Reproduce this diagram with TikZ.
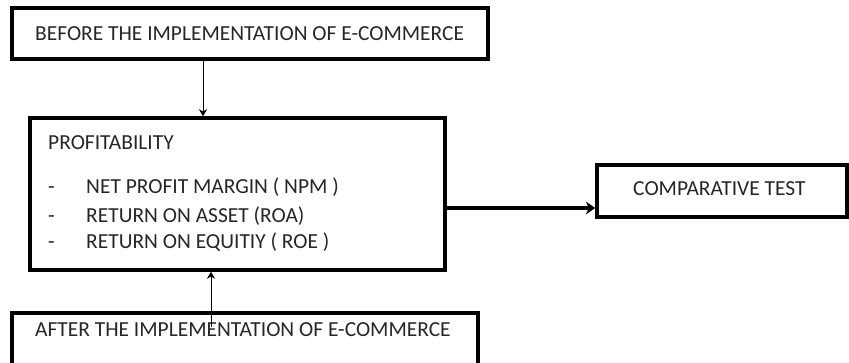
\documentclass[tikz,border=0pt]{standalone}
\usepackage{fontspec}
\setmainfont{Carlito}
\usetikzlibrary{arrows.meta,positioning}
\tikzset{
  box/.style={draw,line width=3pt,rectangle,inner sep=0pt},
  lbl/.style={font=\fontsize{18.3}{22}\selectfont,text=black!85,inner sep=0pt,anchor=base west},
  thin arrow/.style={-{Stealth[length=6pt,width=7pt]},line width=0.8pt},
  fat arrow/.style={-{Stealth[length=8pt,width=11pt]},line width=4.2pt}
}
\begin{document}
\begin{tikzpicture}[x=0.03cm,y=-0.03cm]
                \useasboundingbox (0,0) rectangle (849,362);
                %% boxes
                \node[box,minimum width=14.28cm,minimum height=1.53cm] (before) at (250,33.5) {};
                \node[box,minimum width=12.45cm,minimum height=4.56cm] (prof) at (237.5,194) {};
                \node[box,minimum width=7.5cm,minimum height=1.56cm] (cmp) at (722,191) {};
                \node[box,minimum width=13.98cm,minimum height=2.4cm] (after) at (245,353) {};
                %% texts
                \node[lbl] (tbefore) at (35,40) {BEFORE THE IMPLEMENTATION OF E-COMMERCE};
                \node[lbl] (tprof) at (48,149) {PROFITABILITY};
                \node[lbl] (d1) at (48,193) {-};
                \node[lbl] (d2) at (48,222) {-};
                \node[lbl] (d3) at (48,248) {-};
                \node[lbl] (npm) at (86,193) {NET PROFIT MARGIN ( NPM )};
                \node[lbl] (roa) at (86,222) {RETURN ON ASSET (ROA)};
                \node[lbl] (roe) at (86,248) {RETURN ON EQUITIY ( ROE )};
                \node[lbl] (tcmp) at (633,195) {COMPARATIVE TEST};
                \node[lbl] (tafter) at (35,336) {AFTER THE IMPLEMENTATION OF E-COMMERCE};
                %% connectors
                \coordinate (up) at (203,59);
                \coordinate (low) at (211,327);
                \coordinate (lvl) at (0,208);
                \draw[thin arrow] (up) -- (up |- prof.north);
                \draw[thin arrow] (low) -- (low |- prof.south);
                \draw[fat arrow] (prof.east |- lvl) -- (cmp.west |- lvl);
            \end{tikzpicture}
\end{document}
